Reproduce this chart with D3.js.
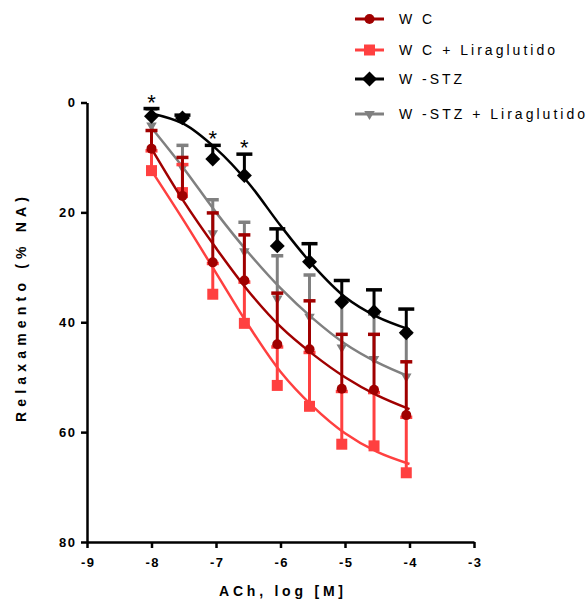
<!DOCTYPE html>
<html>
<head>
<meta charset="utf-8">
<script src="https://cdn.jsdelivr.net/npm/d3@7"></script>
<style>
  body { margin: 0; background: #fff; }
  svg { display: block; font-family: "Liberation Sans", Arial, sans-serif; }
</style>
</head>
<body>
<div id="chart"></div>
<script>
// ACh doses (log M) where the points sit
const doses = [-8, -7.52, -7.05, -6.56, -6.05, -5.55, -5.05, -4.55, -4.05];

// mean relaxation (% NA) and SEM per group
const wcMean = [8.4, 17.0, 29.1, 32.4, 44.0, 44.9, 52.1, 52.3, 56.9];
const wcSem = [3.3, 7.0, 9.0, 8.3, 9.3, 8.8, 9.9, 10.1, 9.7];
const wcLiraMean = [12.4, 16.4, 34.9, 40.2, 51.5, 55.3, 62.2, 62.5, 67.4];
const wcLiraSem = [3.6, 5.1, 5.6, 7.5, 7.0, 9.8, 9.6, 9.7, 10.1];
const stzMean = [2.5, 2.8, 10.3, 13.3, 26.1, 29.0, 36.3, 38.1, 41.9];
const stzSem = [1.4, 0.5, 2.5, 3.9, 3.1, 3.3, 3.9, 4.0, 4.3];
const stzLiraMean = [4.2, 11.8, 23.8, 27.1, 35.7, 39.0, 44.6, 46.7, 49.9];
const stzLiraSem = [3.0, 4.0, 6.1, 5.3, 7.8, 7.6, 8.4, 8.2, 7.9];

// fitted curves
const fitDoses = [-8, -7.5, -7, -6.5, -6, -5.5, -5, -4.5, -4];
const fitWC = [8.4, 18.0, 26.5, 34.3, 40.8, 45.8, 50.0, 53.3, 55.8];
const fitWCLira = [12.4, 21.5, 31.0, 40.5, 49.0, 55.3, 60.2, 63.6, 65.8];
const fitSTZ = [2.0, 3.9, 8.4, 14.6, 22.4, 29.6, 35.4, 39.0, 41.3];
const fitSTZLira = [4.6, 12.0, 20.0, 27.3, 33.8, 39.3, 43.9, 47.3, 49.9];

// W-STZ points marked with *
const starIdx = [0, 2, 3];

const xTicks = [-9, -8, -7, -6, -5, -4, -3];
const yTicks = [0, 20, 40, 60, 80];
const groupNames = ["W C", "W C + Liraglutido", "W -STZ", "W -STZ + Liraglutido"];

const width = 587, height = 601;

const svg = d3.select("#chart")
    .append("svg")
    .attr("width", width)
    .attr("height", height);

const x = d3.scaleLinear().domain([-9, -3]).range([87, 474]);
const y = d3.scaleLinear().domain([0, 80]).range([102.5, 542]);

// symbol paths
const shapes = {
    circle: d3.symbol().type(d3.symbolCircle).size(Math.PI * 25)(),
    square: d3.symbol().type(d3.symbolSquare).size(121)(),
    diamond: d3.symbol().type(d3.symbolSquare).size(112)(),
    triangle: d3.symbol().type(d3.symbolTriangle).size(48)()
};
const shapeRotate = { circle: 0, square: 0, diamond: 45, triangle: 180 };

const series = [
    { name: groupNames[3], mean: stzLiraMean, sem: stzLiraSem, fit: fitSTZLira, color: "#808080", shape: "triangle", cap: 12 },
    { name: groupNames[1], mean: wcLiraMean, sem: wcLiraSem, fit: fitWCLira, color: "#ff4040", shape: "square", cap: 12 },
    { name: groupNames[0], mean: wcMean, sem: wcSem, fit: fitWC, color: "#a00000", shape: "circle", cap: 12 },
    { name: groupNames[2], mean: stzMean, sem: stzSem, fit: fitSTZ, color: "#000000", shape: "diamond", cap: 16 }
];

// axes
const xAxis = svg.append("g")
    .attr("transform", `translate(0, ${y(80)})`)
    .call(d3.axisBottom(x).tickValues(xTicks).tickFormat(d => String(d))
        .tickSize(6).tickSizeOuter(0).tickPadding(10));
const yAxis = svg.append("g")
    .attr("transform", `translate(${x(-9)}, 0)`)
    .call(d3.axisLeft(y).tickValues(yTicks).tickFormat(d => String(d))
        .tickSize(6).tickSizeOuter(0).tickPadding(6));

[xAxis, yAxis].forEach(g => {
    g.select(".domain").attr("stroke", "#000").attr("stroke-width", 2.5);
    g.selectAll(".tick line").attr("stroke", "#000").attr("stroke-width", 2.5);
    g.selectAll(".tick text")
        .attr("fill", "#000")
        .style("font-family", "'Liberation Sans', Arial, sans-serif")
        .style("font-size", "13px")
        .style("font-weight", "bold")
        .style("letter-spacing", "1.5px");
});
yAxis.selectAll(".tick text").attr("dx", "1.5");
xAxis.selectAll(".tick text").attr("dx", "0.75");

const line = d3.line()
    .x((d, i) => x(fitDoses[i]))
    .y(d => y(d))
    .curve(d3.curveCatmullRom.alpha(0.5));

series.forEach(s => {
    const g = svg.append("g");

    g.append("path")
        .attr("d", line(s.fit))
        .attr("fill", "none")
        .attr("stroke", s.color)
        .attr("stroke-width", 2.5);

    // error bars (upper side only)
    g.selectAll(".bar")
        .data(s.mean)
        .join("line")
        .attr("x1", (d, i) => x(doses[i]))
        .attr("x2", (d, i) => x(doses[i]))
        .attr("y1", d => y(d))
        .attr("y2", (d, i) => y(d - s.sem[i]))
        .attr("stroke", s.color)
        .attr("stroke-width", 3);

    g.selectAll(".cap")
        .data(s.mean)
        .join("line")
        .attr("x1", (d, i) => x(doses[i]) - s.cap / 2)
        .attr("x2", (d, i) => x(doses[i]) + s.cap / 2)
        .attr("y1", (d, i) => y(d - s.sem[i]))
        .attr("y2", (d, i) => y(d - s.sem[i]))
        .attr("stroke", s.color)
        .attr("stroke-width", 3.5);

    g.selectAll(".pt")
        .data(s.mean)
        .join("path")
        .attr("d", shapes[s.shape])
        .attr("transform", (d, i) => `translate(${x(doses[i])}, ${y(d)}) rotate(${shapeRotate[s.shape]})`)
        .attr("fill", s.color);
});

// significance marks
svg.selectAll(".star")
    .data(starIdx)
    .join("text")
    .attr("x", i => x(doses[i]))
    .attr("y", i => y(stzMean[i] - stzSem[i]) + 1)
    .attr("text-anchor", "middle")
    .style("font-size", "22px")
    .text("*");

// legend
const legendRows = [
    { name: groupNames[0], color: "#a00000", shape: "circle", y: 19, len: 33 },
    { name: groupNames[1], color: "#ff4040", shape: "square", y: 50, len: 156 },
    { name: groupNames[2], color: "#000000", shape: "diamond", y: 79, len: 63 },
    { name: groupNames[3], color: "#808080", shape: "triangle", y: 114, len: 186 }
];
const legend = svg.append("g");
legendRows.forEach(r => {
    legend.append("line")
        .attr("x1", 355).attr("x2", 384)
        .attr("y1", r.y).attr("y2", r.y)
        .attr("stroke", r.color).attr("stroke-width", 3);
    legend.append("path")
        .attr("d", shapes[r.shape])
        .attr("transform", `translate(369.5, ${r.y}) rotate(${shapeRotate[r.shape]})`)
        .attr("fill", r.color);
    legend.append("text")
        .attr("x", 399)
        .attr("y", r.y + 5)
        .attr("textLength", r.len)
        .attr("lengthAdjust", "spacing")
        .style("font-size", "14px")
        .text(r.name);
});

// axis titles
svg.append("text")
    .attr("x", 219)
    .attr("y", 596)
    .attr("textLength", 124)
    .attr("lengthAdjust", "spacing")
    .style("font-size", "14px")
    .style("font-weight", "bold")
    .text("ACh, log [M]");

svg.append("text")
    .attr("transform", "translate(26, 422) rotate(-90)")
    .attr("textLength", 225)
    .attr("lengthAdjust", "spacing")
    .style("font-size", "14px")
    .style("font-weight", "bold")
    .text("Relaxamento (% NA)");
</script>
</body>
</html>
